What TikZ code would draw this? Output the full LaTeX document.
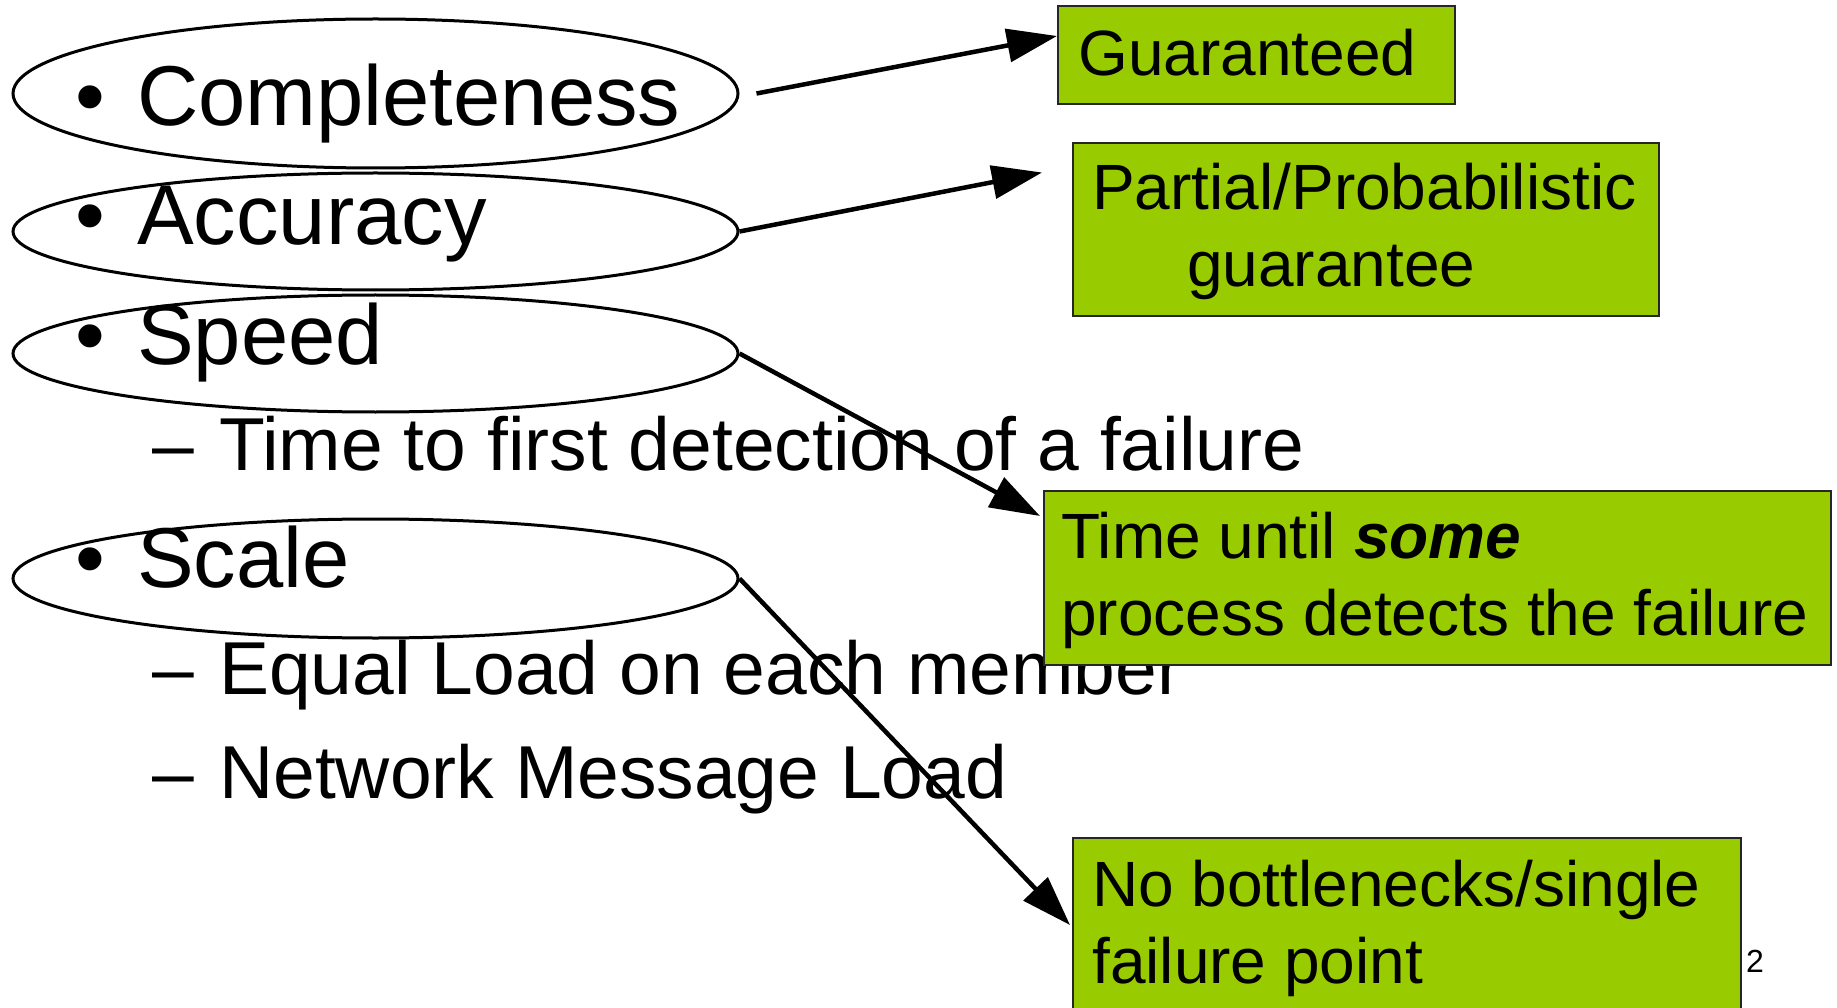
\documentclass[tikz,border=0pt]{standalone}
\usepackage{fontspec}
\setmainfont{Liberation Sans}
\usetikzlibrary{shapes.geometric,arrows.meta}
\definecolor{boxgreen}{HTML}{99CC00}
\begin{document}
\begin{tikzpicture}[x=1pt,y=-1pt]
    \tikzstyle{every node}+=[inner sep=0pt]
    \tikzstyle{oval}=[draw=black, line width=3pt, ellipse, minimum width=725pt]
    \tikzstyle{point}=[anchor=base west, font=\fontsize{85}{100}\selectfont]
    \tikzstyle{subpoint}=[anchor=base west, font=\fontsize{75}{88}\selectfont]
    \tikzstyle{greenbox}=[draw=black!85, line width=2pt, fill=boxgreen, anchor=north west]
    \tikzstyle{boxtext}=[anchor=base west, align=left, font=\fontsize{64}{77}\selectfont]
    \tikzstyle{conn}=[black, line width=4.5pt, -{Triangle[length=50pt,width=33pt]}]
    \useasboundingbox (0,0) rectangle (1837,1008);
    % bullet list
    \node [point] (compl) at (75,126) {\makebox[62pt][l]{•}Completeness};
    \node [point] (accur) at (75,245) {\makebox[62pt][l]{•}Accuracy};
    \node [point] (speed) at (75,364) {\makebox[62pt][l]{•}Speed};
    \node [subpoint] (firstdet) at (152,470) {\makebox[67pt][l]{–}Time to first detection of a failure};
    \node [point] (scale) at (75,587) {\makebox[62pt][l]{•}Scale};
    \node [subpoint] (eqload) at (152,694) {\makebox[67pt][l]{–}Equal Load on each member};
    \node [subpoint] (netload) at (152,798) {\makebox[67pt][l]{–}Network Message Load};
    % ovals round the bullets
    \node [oval, minimum height=149pt] (ovComp) at (375.5,93.5) {};
    \node [oval, minimum height=117pt] (ovAcc) at (375.5,231.5) {};
    \node [oval, minimum height=117pt] (ovSpeed) at (375.5,353.5) {};
    \node [oval, minimum height=119pt] (ovScale) at (375.5,578.5) {};
    % green boxes (text base = last line)
    \node [greenbox, minimum width=397pt, minimum height=98pt] (guar) at (1057,5) {};
    \node [boxtext] (guarTxt) at (1078,76) {Guaranteed};
    \node [greenbox, minimum width=586pt, minimum height=173pt] (part) at (1072,142) {};
    \node [boxtext] (partTxt) at (1092,287) {Partial/Probabilistic\\\hspace*{95pt}guarantee};
    \node [greenbox, minimum width=787pt, minimum height=174pt] (time) at (1043,490) {};
    \node [boxtext] (timeTxt) at (1061,635) {Time until \textbf{\textit{some}}\\process detects the failure};
    \node [greenbox, minimum width=668pt, minimum height=176pt] (nobn) at (1072,837) {};
    \node [boxtext] (nobnTxt) at (1092,983) {No bottlenecks/single\\failure point};
    \node [anchor=base west, font=\fontsize{32}{38}\selectfont] (pgnum) at (1746,972) {2};
    % arrows
    \draw [conn] ([xshift=17pt]ovComp.east) -- ([yshift=19pt]guar.west);
    \draw [conn] (ovAcc.east) -- ([xshift=-30pt,yshift=57pt]part.west);
    \draw [conn] (ovSpeed.east) -- ([xshift=-3pt,yshift=-26pt]time.north west);
    \draw [conn] (ovScale.east) -- ([xshift=-2pt,yshift=-88pt]nobn.north west);
\end{tikzpicture}
\end{document}
